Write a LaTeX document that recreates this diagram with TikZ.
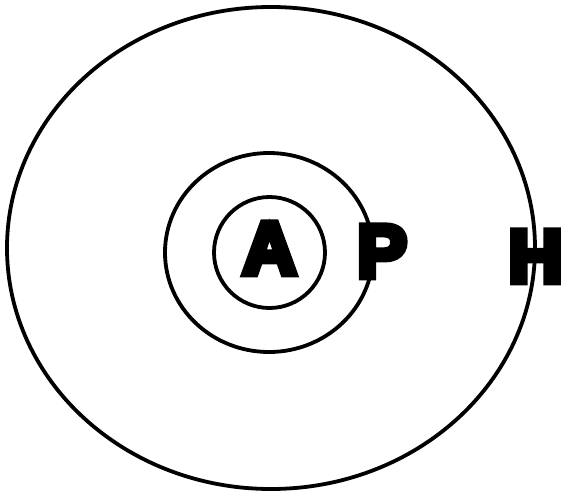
\documentclass[tikz,border=0pt]{standalone}
\usepackage{tikz}
\font\letterfont="Liberation Sans Bold:embolden=9" at 106pt
\begin{document}
\begin{tikzpicture}[
    x=0.05cm, y=-0.05cm,
    ring/.style={draw, line width=0.19cm},
    letter/.style={font=\letterfont, inner sep=0pt, anchor=base}
]
\useasboundingbox (0,0) rectangle (563,493);
\fill[white] (0,0) rectangle (563,493);

% rings
\draw[ring] (271,248) ellipse [x radius=264, y radius=241];
\draw[ring] (269,252.5) ellipse [x radius=104, y radius=99.5];
\draw[ring] (269.5,252.5) circle [radius=55.5];

% letters
\node[letter] (A) at (269.5,274) {A};
\node[letter] (P) at (382,277) {P};
\node[letter] (H) at (535.5,282) {H};
\end{tikzpicture}
\end{document}
